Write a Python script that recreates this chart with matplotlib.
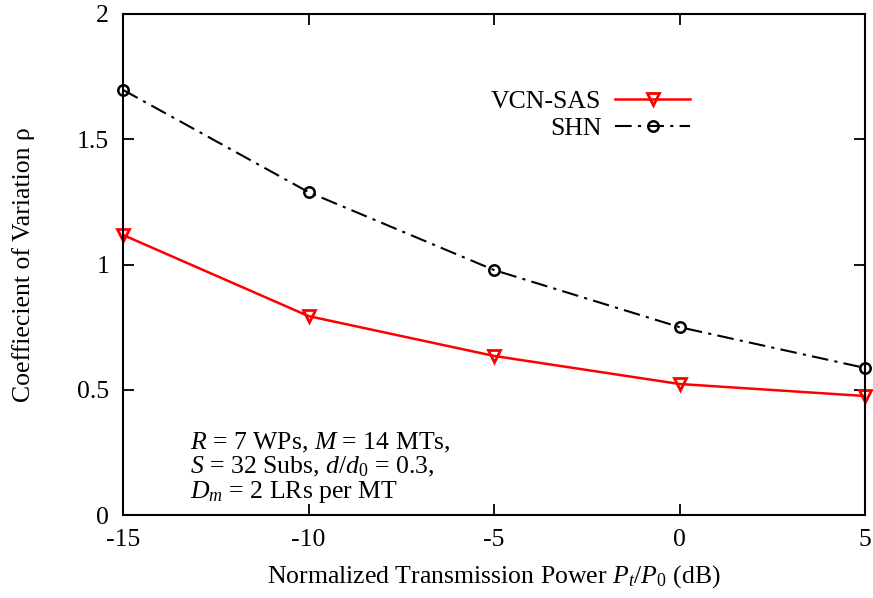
import matplotlib
matplotlib.use("Agg")
import matplotlib.pyplot as plt

power_db = [-15, -10, -5, 0, 5]
vcn_sas = [1.118, 0.794, 0.635, 0.523, 0.475]
shn = [1.697, 1.289, 0.978, 0.750, 0.587]
x_ticks = [-15, -10, -5, 0, 5]
y_ticks = [0, 0.5, 1, 1.5, 2]

plt.rcParams["font.family"] = ["Liberation Serif", "DejaVu Serif"]
plt.rcParams["mathtext.fontset"] = "custom"
plt.rcParams["mathtext.rm"] = "Liberation Serif"
plt.rcParams["mathtext.it"] = "Liberation Serif:italic"
plt.rcParams["font.size"] = 18.5

fig = plt.figure(figsize=(8.73, 5.98), dpi=100)
ax = fig.add_axes([123 / 873, 83 / 598, 742 / 873, 501 / 598])

ax.plot(power_db, vcn_sas, color="red", lw=1.8, marker="v", ms=9,
        mfc="none", mew=2, label="VCN-SAS", clip_on=False)
ax.plot(power_db, shn, color="black", lw=1.5, ls=(0, (8, 3, 1.5, 3)),
        marker="o", ms=7.5, mfc="none", mew=1.8, label="SHN", clip_on=False)

ax.set_xlim(-15, 5)
ax.set_ylim(0, 2)
ax.set_xticks(x_ticks)
ax.set_xticklabels([str(t) for t in x_ticks])
ax.set_yticks(y_ticks)
ax.set_yticklabels(["0", "0.5", "1", "1.5", "2"])
ax.tick_params(direction="in", length=8, width=1.3, top=True, right=True, pad=10)
for s in ax.spines.values():
    s.set_linewidth(1.5)

ax.set_xlabel(r"Normalized Transmission Power $P_t/P_0$ (dB)", labelpad=9)
ax.set_ylabel(r"Coeffiecient of Variation ρ", labelpad=30)

ax.legend(loc="upper right", bbox_to_anchor=(0.778, 0.868), frameon=False,
          markerfirst=False, handlelength=2.9, labelspacing=0.15,
          handletextpad=0.55, borderaxespad=0.0)

ax.text(0.09, 0.168,
        "$R$ = 7 WPs, $M$ = 14 MTs,\n"
        "$S$ = 32 Subs, $d/d_0$ = 0.3,\n"
        "$D_m$ = 2 LRs per MT",
        transform=ax.transAxes, linespacing=1.0, va="top")

fig.savefig("out.png", dpi=100)
